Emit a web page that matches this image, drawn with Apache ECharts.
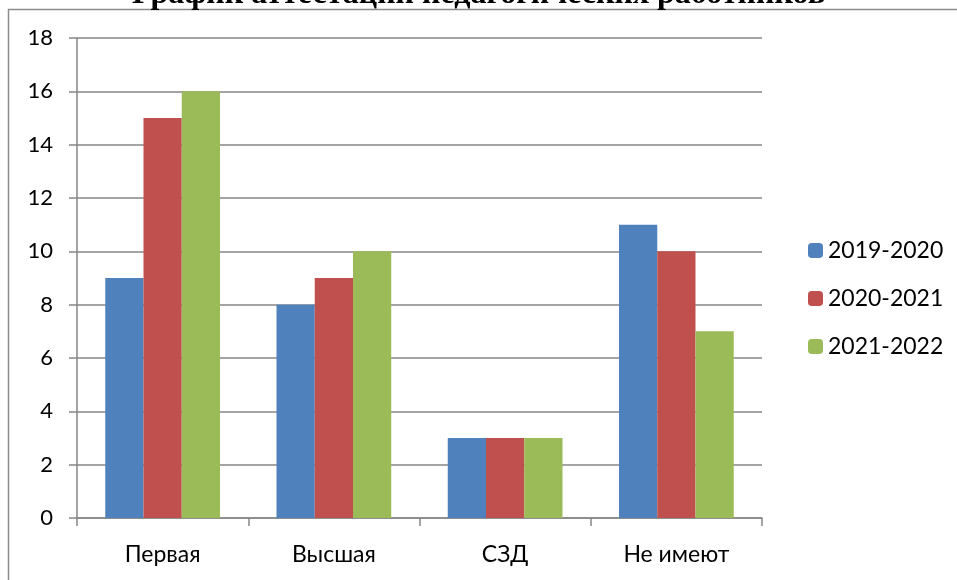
<!DOCTYPE html>
<html>
<head>
<meta charset="utf-8">
<script src="https://cdn.jsdelivr.net/npm/echarts@6/dist/echarts.min.js"></script>
<style>
html, body { margin: 0; padding: 0; background: #fff; }
#chart { width: 957px; height: 580px; }
</style>
</head>
<body>
<div id="chart"></div>
<script>
const categories = ['Первая', 'Высшая', 'СЗД', 'Не имеют'];
const seriesNames = ['2019-2020', '2020-2021', '2021-2022'];
const values2019 = [9, 8, 3, 11];
const values2020 = [15, 9, 3, 10];
const values2021 = [16, 10, 3, 7];
const colors = ['#4f81bd', '#c0504d', '#9bbb59'];

const chart = echarts.init(document.getElementById('chart'));
const font = 'Lato, "Open Sans", sans-serif';

chart.setOption({
    animation: false,
    color: colors,
    graphic: [
        {
            type: 'rect',
            shape: { x: 8.5, y: 9.5, width: 960, height: 600 },
            style: { fill: 'none', stroke: '#8c8c8c', lineWidth: 1.5 },
            silent: true
        },
        {
            type: 'text',
            left: 'center',
            top: -21,
            style: {
                text: 'График аттестации педагогических работников',
                font: 'bold 32px "Liberation Serif", serif',
                fill: '#000'
            }
        }
    ],
    legend: {
        orient: 'vertical',
        left: 803,
        top: 234,
        itemWidth: 15,
        itemHeight: 15,
        itemGap: 25,
        data: seriesNames,
        textStyle: { fontSize: 23, fontFamily: font, color: '#000', padding: [0, 0, 0, 0] }
    },
    grid: { left: 77, right: 195, top: 38, bottom: 62 },
    xAxis: {
        type: 'category',
        data: categories,
        axisLine: { lineStyle: { color: '#868686', width: 1.5 } },
        axisTick: { show: true, length: 8, alignWithLabel: false, lineStyle: { color: '#868686', width: 1.5 } },
        axisLabel: { fontSize: 23, fontFamily: font, color: '#000', margin: 25 }
    },
    yAxis: {
        type: 'value',
        min: 0,
        max: 18,
        interval: 2,
        axisLine: { show: true, lineStyle: { color: '#868686', width: 1.5 } },
        axisTick: { show: true, length: 8, lineStyle: { color: '#868686', width: 1.5 } },
        splitLine: { lineStyle: { color: '#868686', width: 1.5 } },
        axisLabel: { fontSize: 22, fontFamily: font, color: '#000', margin: 24 }
    },
    series: [
        { name: seriesNames[0], type: 'bar', data: values2019, barGap: '0%', barCategoryGap: '33%' },
        { name: seriesNames[1], type: 'bar', data: values2020, barGap: '0%', barCategoryGap: '33%' },
        { name: seriesNames[2], type: 'bar', data: values2021, barGap: '0%', barCategoryGap: '33%' }
    ]
});
</script>
</body>
</html>
